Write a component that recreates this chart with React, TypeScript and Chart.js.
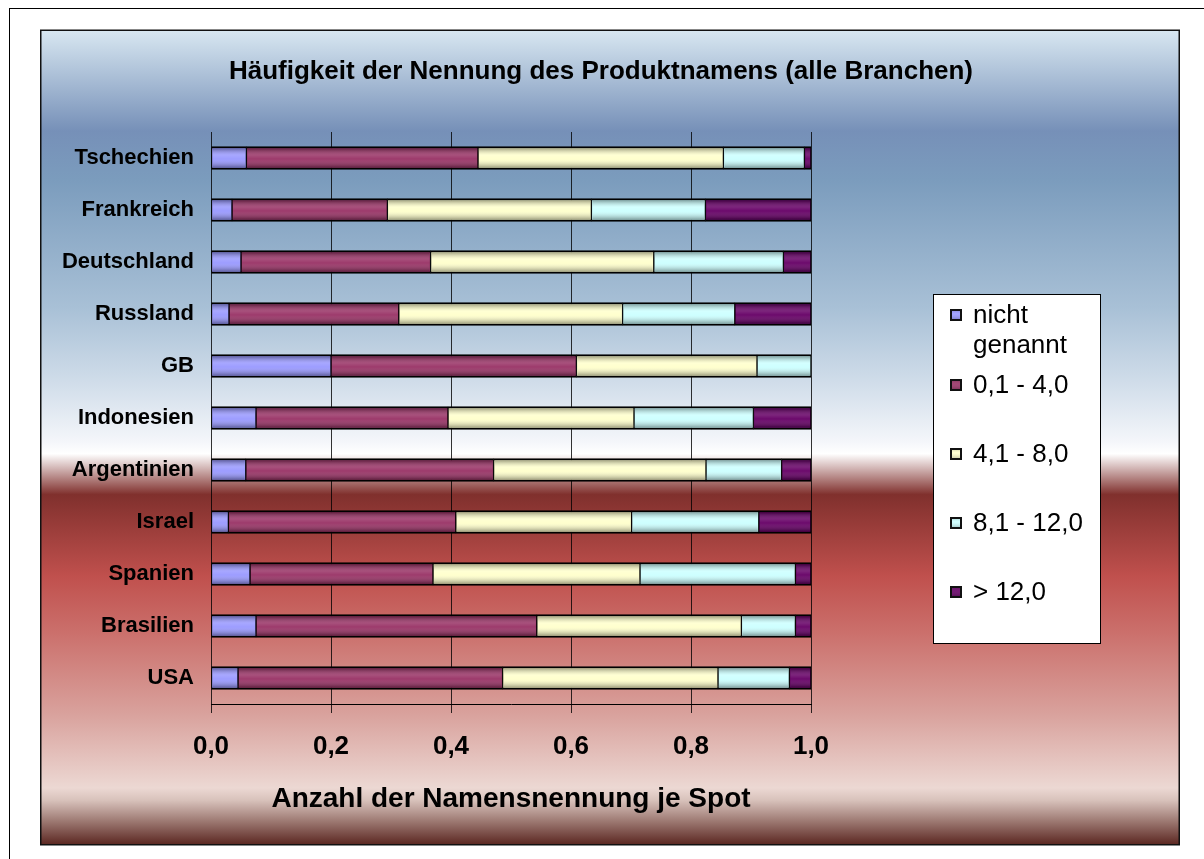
import React, { useEffect, useRef } from "react";
import { Chart, registerables } from "chart.js";

Chart.register(...registerables);

const FONT = "Arial, 'Liberation Sans', sans-serif";

const chartTitle = "Häufigkeit der Nennung des Produktnamens (alle Branchen)";
const xAxisTitle = "Anzahl der Namensnennung je Spot";

const categories = [
  "Tschechien",
  "Frankreich",
  "Deutschland",
  "Russland",
  "GB",
  "Indonesien",
  "Argentinien",
  "Israel",
  "Spanien",
  "Brasilien",
  "USA",
];

const seriesLabels = ["nicht genannt", "0,1 - 4,0", "4,1 - 8,0", "8,1 - 12,0", "> 12,0"];
const seriesColors = ["#9999FF", "#993366", "#FFFFCC", "#CCFFFF", "#660066"];

const nichtGenannt = [0.059, 0.035, 0.05, 0.03, 0.2, 0.075, 0.058, 0.029, 0.065, 0.075, 0.045];
const bis4 = [0.386, 0.259, 0.316, 0.283, 0.409, 0.32, 0.413, 0.379, 0.305, 0.468, 0.441];
const bis8 = [0.409, 0.34, 0.372, 0.373, 0.301, 0.31, 0.354, 0.293, 0.345, 0.341, 0.359];
const bis12 = [0.135, 0.19, 0.216, 0.187, 0.09, 0.199, 0.126, 0.212, 0.259, 0.09, 0.119];
const ueber12 = [0.011, 0.176, 0.046, 0.127, 0.0, 0.096, 0.049, 0.087, 0.026, 0.026, 0.036];

const xTicks = [0, 0.2, 0.4, 0.6, 0.8, 1.0];

const seriesValues = [nichtGenannt, bis4, bis8, bis12, ueber12];

const decoPlugin = {
  id: "deco",
  beforeDraw(chart: any) {
    const ctx = chart.ctx as CanvasRenderingContext2D;
    const w = chart.width;
    const h = chart.height;
    ctx.save();
    ctx.fillStyle = "#ffffff";
    ctx.fillRect(0, 0, w, h);
    // outer frame
    ctx.strokeStyle = "#000";
    ctx.lineWidth = 1;
    ctx.strokeRect(9.5, 8.5, 1300, 1000);
    // panel
    const top = 30;
    const bottom = 845;
    const g = ctx.createLinearGradient(0, top, 0, bottom);
    g.addColorStop(0, "#d8e7f1");
    g.addColorStop(0.124, "#7690b8");
    g.addColorStop(0.184, "#7b9cbd");
    g.addColorStop(0.34, "#a8c0d6");
    g.addColorStop(0.43, "#cfdce9");
    g.addColorStop(0.505, "#f4f6fa");
    g.addColorStop(0.52, "#ffffff");
    g.addColorStop(0.57, "#80302d");
    g.addColorStop(0.67, "#c0504d");
    g.addColorStop(0.74, "#cb706c");
    g.addColorStop(0.84, "#d9a29d");
    g.addColorStop(0.93, "#ecd8d3");
    g.addColorStop(0.945, "#d8c2bb");
    g.addColorStop(1, "#5a2620");
    ctx.fillStyle = g;
    ctx.fillRect(41, top, 1138, bottom - top);
    ctx.strokeStyle = "#111";
    ctx.lineWidth = 1.5;
    ctx.strokeRect(40.75, 30.25, 1138.5, 814.5);
    ctx.restore();
  },
  afterDatasetsDraw(chart: any) {
    const ctx = chart.ctx as CanvasRenderingContext2D;
    ctx.save();
    chart.data.datasets.forEach((_ds: any, i: number) => {
      const meta = chart.getDatasetMeta(i);
      meta.data.forEach((el: any) => {
        const p = el.getProps(["x", "y", "base", "height"], true);
        const left = Math.min(p.x, p.base) + 1;
        const right = Math.max(p.x, p.base) - 1;
        if (right - left <= 0) return;
        const top = p.y - p.height / 2 + 2;
        const bottom = p.y + p.height / 2 - 2;
        const g = ctx.createLinearGradient(0, top, 0, bottom);
        g.addColorStop(0, "rgba(0,0,0,0.34)");
        g.addColorStop(0.35, "rgba(255,255,255,0.14)");
        g.addColorStop(0.55, "rgba(255,255,255,0.04)");
        g.addColorStop(1, "rgba(0,0,0,0.36)");
        ctx.fillStyle = g;
        ctx.fillRect(left, top, right - left, bottom - top);
      });
    });
    ctx.restore();
  },
  afterDraw(chart: any) {
    const ctx = chart.ctx as CanvasRenderingContext2D;
    ctx.save();
    // title
    ctx.fillStyle = "#000";
    ctx.font = `bold 26px ${FONT}`;
    ctx.textAlign = "center";
    ctx.textBaseline = "middle";
    ctx.fillText(chartTitle, 601, 72);

    // legend
    const lx = 933;
    const ly = 294;
    const lw = 168;
    const lh = 350;
    ctx.fillStyle = "#fff";
    ctx.fillRect(lx, ly, lw, lh);
    ctx.strokeStyle = "#000";
    ctx.lineWidth = 1;
    ctx.strokeRect(lx + 0.5, ly + 0.5, lw - 1, lh - 1);
    ctx.font = `26px ${FONT}`;
    ctx.textAlign = "left";
    ctx.textBaseline = "middle";
    const maxW = lx + lw - 973 - 6;
    chart.data.datasets.forEach((ds: any, i: number) => {
      const cy = i === 0 ? ly + 21 : ly + 91 + (i - 1) * 69;
      ctx.fillStyle = ds.backgroundColor;
      ctx.fillRect(950, cy - 6, 12, 12);
      const sg = ctx.createLinearGradient(0, cy - 6, 0, cy + 6);
      sg.addColorStop(0, "rgba(0,0,0,0.25)");
      sg.addColorStop(0.4, "rgba(255,255,255,0.1)");
      sg.addColorStop(1, "rgba(0,0,0,0.3)");
      ctx.fillStyle = sg;
      ctx.fillRect(950, cy - 6, 12, 12);
      ctx.strokeStyle = "#111";
      ctx.lineWidth = 2;
      ctx.strokeRect(951, cy - 5, 10, 10);
      // wrap
      const words = String(ds.label).split(" ");
      const lines: string[] = [];
      let cur = "";
      words.forEach((wd) => {
        const t = cur ? cur + " " + wd : wd;
        if (cur && ctx.measureText(t).width > maxW) {
          lines.push(cur);
          cur = wd;
        } else cur = t;
      });
      if (cur) lines.push(cur);
      ctx.fillStyle = "#000";
      lines.forEach((ln, k) => ctx.fillText(ln, 973, cy + 1 + k * 30));
    });
    ctx.restore();
  },
};

export default function App() {
  const ref = useRef<HTMLCanvasElement>(null);
  useEffect(() => {
    document.body.style.margin = "0";
    const canvas = ref.current!;
    const chart = new Chart(canvas, {
      type: "bar",
      data: {
        labels: categories,
        datasets: seriesValues.map((d, i) => ({
          label: seriesLabels[i],
          data: d,
          backgroundColor: seriesColors[i],
          borderColor: "#000",
          borderWidth: { top: 2, bottom: 2, left: 1, right: 1 },
          borderSkipped: false,
          barThickness: 23,
        })),
      },
      options: {
        indexAxis: "y",
        responsive: false,
        animation: false,
        devicePixelRatio: 1,
        layout: { padding: { top: 132, right: 393, bottom: 0, left: 0 } },
        plugins: {
          legend: { display: false },
          title: { display: false },
          tooltip: { enabled: false },
        },
        scales: {
          x: {
            stacked: true,
            min: 0,
            max: 1,
            afterBuildTicks: (s: any) => {
              s.ticks = xTicks.map((v) => ({ value: v }));
            },
            afterFit: (s: any) => {
              s.height = 155;
            },
            grid: { color: "rgba(0,0,0,0.8)", lineWidth: 1, tickLength: 9, drawTicks: true },
            border: { color: "#000", width: 1 },
            ticks: {
              padding: 18,
              color: "#000",
              autoSkip: false,
              maxRotation: 0,
              font: { family: FONT, size: 26, weight: "bold" },
              callback: (v: any) => Number(v).toFixed(1).replace(".", ","),
            },
            title: {
              display: true,
              text: xAxisTitle,
              color: "#000",
              font: { family: FONT, size: 28, weight: "bold" },
              padding: { top: 0, bottom: 43 },
            },
          },
          y: {
            stacked: true,
            afterFit: (s: any) => {
              s.width = 211;
            },
            grid: { display: false },
            border: { display: false },
            ticks: {
              padding: 9,
              color: "#000",
              font: { family: FONT, size: 22, weight: "bold" },
            },
          },
        },
      } as any,
      plugins: [decoPlugin],
    });
    return () => chart.destroy();
  }, []);
  return (
    <canvas
      ref={ref}
      width={1204}
      height={859}
      style={{ display: "block", width: 1204, height: 859 }}
    />
  );
}
